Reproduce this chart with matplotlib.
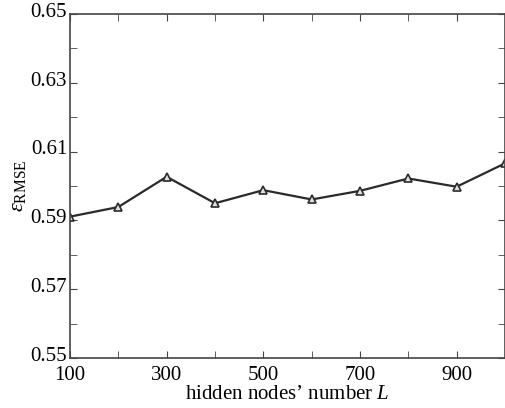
import matplotlib
matplotlib.use('Agg')
import matplotlib.pyplot as plt
import matplotlib.ticker as ticker
import matplotlib.transforms as mtransforms

plt.rcParams['font.family'] = ['Liberation Serif', 'DejaVu Serif']
plt.rcParams['mathtext.fontset'] = 'custom'
plt.rcParams['mathtext.rm'] = 'Liberation Serif'
plt.rcParams['mathtext.it'] = 'Liberation Serif:italic'

# hidden nodes number L vs RMSE
nodes = [100, 200, 300, 400, 500, 600, 700, 800, 900, 1000]
rmse = [0.5911, 0.5939, 0.6027, 0.5950, 0.5988, 0.5961, 0.5986, 0.6022, 0.5998, 0.6066]
x_labels = [100, 300, 500, 700, 900]
y_labels = [0.55, 0.57, 0.59, 0.61, 0.63, 0.65]

fig = plt.figure(figsize=(5.06, 4.08), dpi=100)
ax = fig.add_axes([0.1383, 0.1225, 0.8597, 0.843])

ax.plot(nodes, rmse, color='#2a2a2a', lw=1.6, marker='^', ms=6,
        mfc='#e0e0e0', mec='#2a2a2a', mew=1.2)

ax.set_xlim(100, 1000)
ax.set_ylim(0.55, 0.65)
ax.xaxis.set_major_locator(ticker.FixedLocator(x_labels))
ax.xaxis.set_minor_locator(ticker.MultipleLocator(100))
ax.yaxis.set_major_locator(ticker.FixedLocator(y_labels))
ax.yaxis.set_minor_locator(ticker.MultipleLocator(0.01))
ax.yaxis.set_major_formatter(ticker.FormatStrFormatter('%.2f'))

ax.tick_params(which='both', direction='in', top=True, right=True,
               labelsize=15, color='#444444', length=5)
ax.tick_params(axis='y', pad=2)
ax.tick_params(axis='x', pad=6)
for s in ax.spines.values():
    s.set_color('#444444')
    s.set_linewidth(1.2)

# y labels sit a little above their ticks, as in the original
shift = mtransforms.ScaledTranslation(0, 3 / 72, fig.dpi_scale_trans)
for lab in ax.get_yticklabels():
    lab.set_transform(lab.get_transform() + shift)

ax.set_xlabel('hidden nodes\u2019 number $\\mathit{L}$', fontsize=15, labelpad=0)
ax.set_ylabel('$\\varepsilon_{\\mathrm{RMSE}}$', fontsize=16, labelpad=2)

fig.savefig('out.png', dpi=100)
